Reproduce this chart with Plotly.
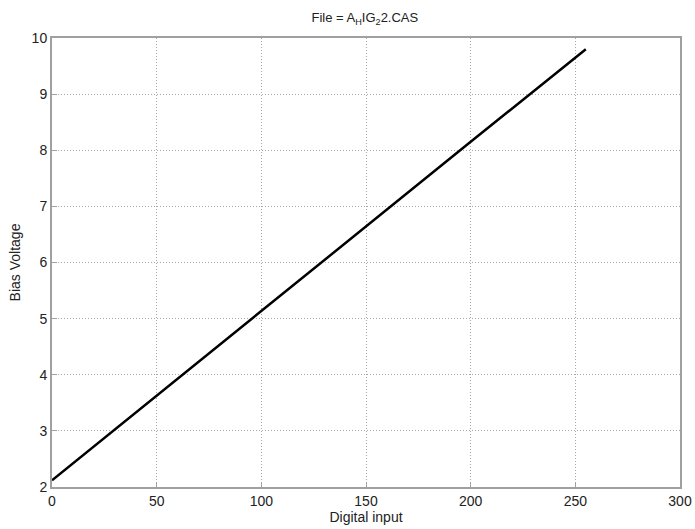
import plotly.graph_objects as go

digital_input = [0, 50, 100, 150, 200, 255]
bias_voltage = [2.12, 3.63, 5.13, 6.64, 8.15, 9.80]
x_ticks = [0, 50, 100, 150, 200, 250, 300]
y_ticks = [2, 3, 4, 5, 6, 7, 8, 9, 10]

fig = go.Figure()
fig.add_trace(go.Scatter(x=digital_input, y=bias_voltage, mode="lines",
                         line=dict(color="black", width=2.5), showlegend=False))

axis_common = dict(showgrid=True, gridcolor="#a8a8a8", griddash="1px,2px", gridwidth=1,
                   showline=True, linecolor="#a0a0a0", linewidth=2, mirror=True,
                   ticks="inside", ticklen=5, tickcolor="#a0a0a0", zeroline=False,
                   automargin=False,
                   tickfont=dict(family="Liberation Sans, Arial", size=14, color="#222"))

fig.update_xaxes(range=[0, 300], tickvals=x_ticks, **axis_common,
                 title=dict(text="Digital input", standoff=2,
                            font=dict(family="Liberation Sans, Arial", size=14, color="#222")))
fig.update_yaxes(range=[2, 10], tickvals=y_ticks, **axis_common,
                 title=dict(text="Bias Voltage", standoff=8,
                            font=dict(family="Liberation Sans, Arial", size=14, color="#222")))

fig.update_layout(
    width=695, height=529,
    margin=dict(l=52, r=15, t=38, b=42),
    paper_bgcolor="white", plot_bgcolor="white",
    title=dict(text="File = A<sub>H</sub>IG<sub>2</sub>2.CAS", x=0.525, xanchor="center",
               y=0.975, yanchor="top", automargin=False,
               font=dict(family="Liberation Sans, Arial", size=13, color="#222")),
)

fig.write_html("out.html")
